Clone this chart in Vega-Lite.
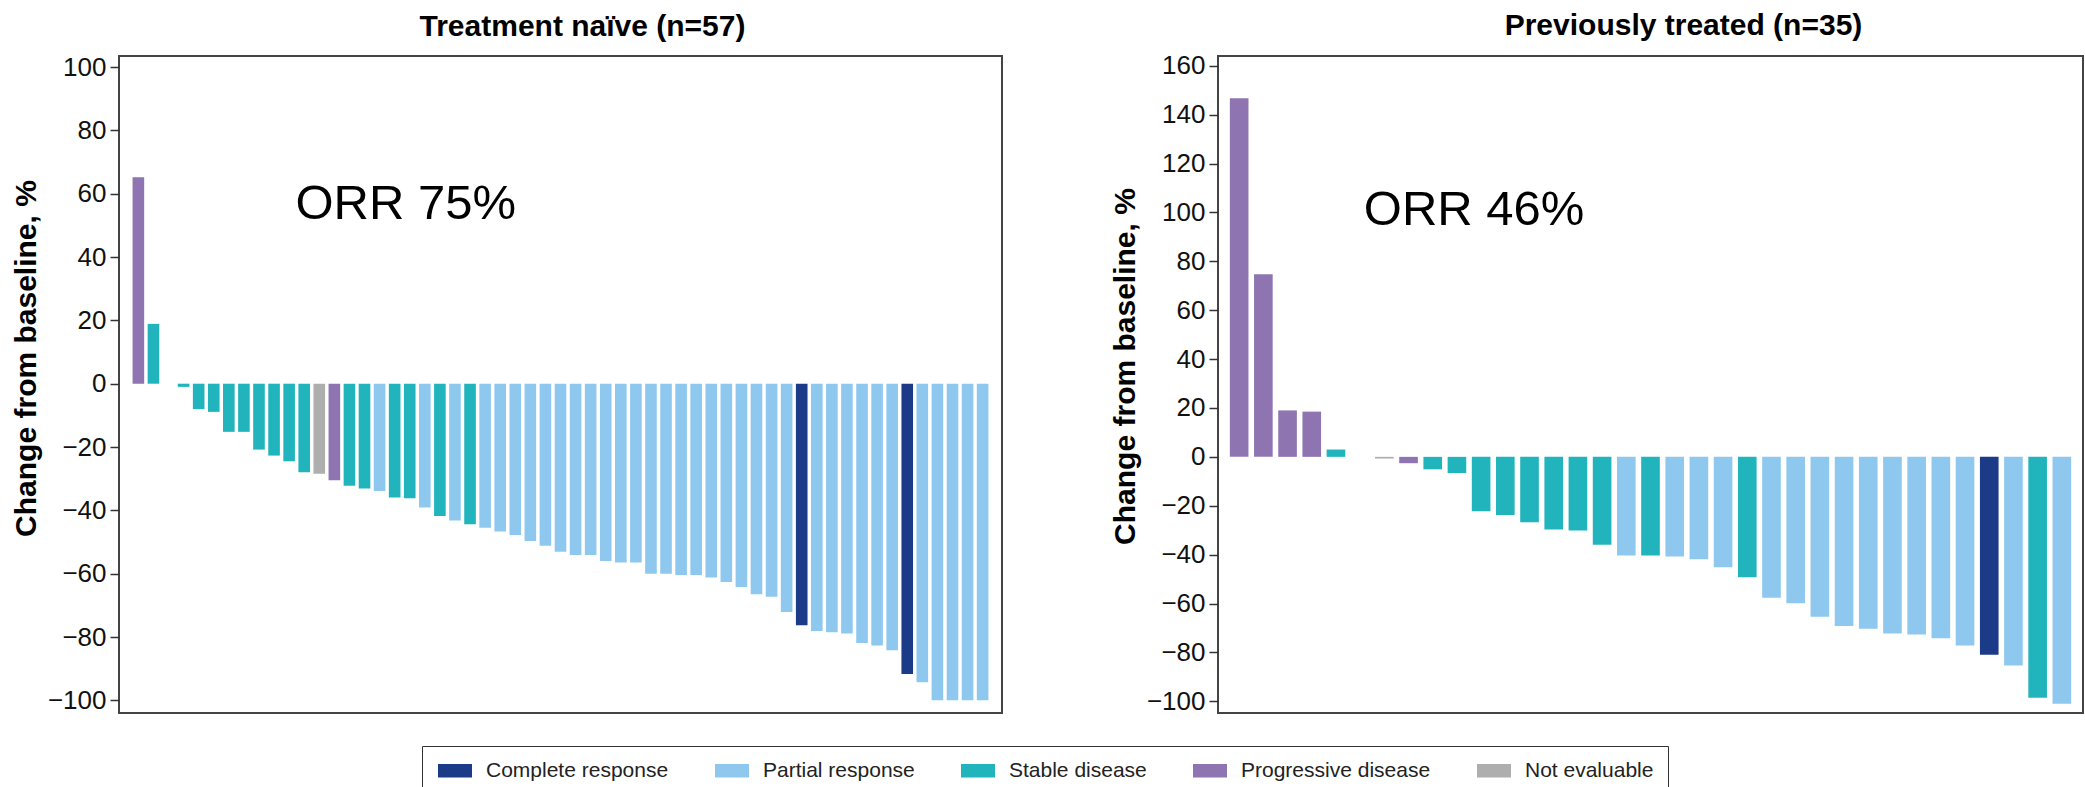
{
  "$schema": "https://vega.github.io/schema/vega-lite/v6.json",
  "background": "white",
  "padding": {"left": 10, "top": 9, "right": 0, "bottom": 0},
  "config": {
    "font": "Liberation Sans",
    "view": {"stroke": "#444", "strokeWidth": 2},
    "concat": {"spacing": 106},
    "axisY": {
      "labelFontSize": 26, "labelColor": "#111", "labelFont": "Liberation Sans",
      "tickColor": "#333", "tickSize": 9, "tickWidth": 1.5,
      "domain": false, "grid": false, "labelPadding": 4,
      "titleFontSize": 30, "titleFontWeight": "bold", "titleColor": "#000", "titleFont": "Liberation Sans", "titlePadding": 6
    },
    "title": {"fontSize": 30, "fontWeight": "bold", "font": "Liberation Sans", "color": "#000", "baseline": "alphabetic", "offset": 12}
  },
  "datasets": {
    "naive": [
      {"id": 1, "change": 65.2, "response": "Progressive disease"},
      {"id": 2, "change": 18.9, "response": "Stable disease"},
      {"id": 3, "change": 0, "response": "Stable disease"},
      {"id": 4, "change": -1, "response": "Stable disease"},
      {"id": 5, "change": -8, "response": "Stable disease"},
      {"id": 6, "change": -8.9, "response": "Stable disease"},
      {"id": 7, "change": -15.2, "response": "Stable disease"},
      {"id": 8, "change": -15.2, "response": "Stable disease"},
      {"id": 9, "change": -20.8, "response": "Stable disease"},
      {"id": 10, "change": -22.7, "response": "Stable disease"},
      {"id": 11, "change": -24.5, "response": "Stable disease"},
      {"id": 12, "change": -28, "response": "Stable disease"},
      {"id": 13, "change": -28.4, "response": "Not evaluable"},
      {"id": 14, "change": -30.5, "response": "Progressive disease"},
      {"id": 15, "change": -32.2, "response": "Stable disease"},
      {"id": 16, "change": -33.1, "response": "Stable disease"},
      {"id": 17, "change": -33.9, "response": "Partial response"},
      {"id": 18, "change": -35.9, "response": "Stable disease"},
      {"id": 19, "change": -36.2, "response": "Stable disease"},
      {"id": 20, "change": -39.1, "response": "Partial response"},
      {"id": 21, "change": -41.8, "response": "Stable disease"},
      {"id": 22, "change": -43.2, "response": "Partial response"},
      {"id": 23, "change": -44.4, "response": "Stable disease"},
      {"id": 24, "change": -45.5, "response": "Partial response"},
      {"id": 25, "change": -46.7, "response": "Partial response"},
      {"id": 26, "change": -47.8, "response": "Partial response"},
      {"id": 27, "change": -49.7, "response": "Partial response"},
      {"id": 28, "change": -51.2, "response": "Partial response"},
      {"id": 29, "change": -53.1, "response": "Partial response"},
      {"id": 30, "change": -54.1, "response": "Partial response"},
      {"id": 31, "change": -54.1, "response": "Partial response"},
      {"id": 32, "change": -56, "response": "Partial response"},
      {"id": 33, "change": -56.5, "response": "Partial response"},
      {"id": 34, "change": -56.5, "response": "Partial response"},
      {"id": 35, "change": -60, "response": "Partial response"},
      {"id": 36, "change": -60, "response": "Partial response"},
      {"id": 37, "change": -60.4, "response": "Partial response"},
      {"id": 38, "change": -60.4, "response": "Partial response"},
      {"id": 39, "change": -61.2, "response": "Partial response"},
      {"id": 40, "change": -62.6, "response": "Partial response"},
      {"id": 41, "change": -64.2, "response": "Partial response"},
      {"id": 42, "change": -66.5, "response": "Partial response"},
      {"id": 43, "change": -67.3, "response": "Partial response"},
      {"id": 44, "change": -72.1, "response": "Partial response"},
      {"id": 45, "change": -76.3, "response": "Complete response"},
      {"id": 46, "change": -78.1, "response": "Partial response"},
      {"id": 47, "change": -78.5, "response": "Partial response"},
      {"id": 48, "change": -78.9, "response": "Partial response"},
      {"id": 49, "change": -81.9, "response": "Partial response"},
      {"id": 50, "change": -82.7, "response": "Partial response"},
      {"id": 51, "change": -84.2, "response": "Partial response"},
      {"id": 52, "change": -91.7, "response": "Complete response"},
      {"id": 53, "change": -94.3, "response": "Partial response"},
      {"id": 54, "change": -100, "response": "Partial response"},
      {"id": 55, "change": -100, "response": "Partial response"},
      {"id": 56, "change": -100, "response": "Partial response"},
      {"id": 57, "change": -100, "response": "Partial response"}
    ],
    "prev": [
      {"id": 1, "change": 146.7, "response": "Progressive disease"},
      {"id": 2, "change": 74.7, "response": "Progressive disease"},
      {"id": 3, "change": 19, "response": "Progressive disease"},
      {"id": 4, "change": 18.5, "response": "Progressive disease"},
      {"id": 5, "change": 3, "response": "Stable disease"},
      {"id": 6, "change": 0, "response": "Stable disease"},
      {"id": 7, "change": -0.7, "response": "Not evaluable"},
      {"id": 8, "change": -2.6, "response": "Progressive disease"},
      {"id": 9, "change": -5.1, "response": "Stable disease"},
      {"id": 10, "change": -6.6, "response": "Stable disease"},
      {"id": 11, "change": -22.3, "response": "Stable disease"},
      {"id": 12, "change": -23.8, "response": "Stable disease"},
      {"id": 13, "change": -26.8, "response": "Stable disease"},
      {"id": 14, "change": -29.7, "response": "Stable disease"},
      {"id": 15, "change": -30.1, "response": "Stable disease"},
      {"id": 16, "change": -36, "response": "Stable disease"},
      {"id": 17, "change": -40.4, "response": "Partial response"},
      {"id": 18, "change": -40.4, "response": "Stable disease"},
      {"id": 19, "change": -40.8, "response": "Partial response"},
      {"id": 20, "change": -41.9, "response": "Partial response"},
      {"id": 21, "change": -45.2, "response": "Partial response"},
      {"id": 22, "change": -49.3, "response": "Stable disease"},
      {"id": 23, "change": -57.6, "response": "Partial response"},
      {"id": 24, "change": -59.9, "response": "Partial response"},
      {"id": 25, "change": -65.4, "response": "Partial response"},
      {"id": 26, "change": -69.2, "response": "Partial response"},
      {"id": 27, "change": -70.3, "response": "Partial response"},
      {"id": 28, "change": -72.3, "response": "Partial response"},
      {"id": 29, "change": -72.7, "response": "Partial response"},
      {"id": 30, "change": -74.2, "response": "Partial response"},
      {"id": 31, "change": -77.2, "response": "Partial response"},
      {"id": 32, "change": -81, "response": "Complete response"},
      {"id": 33, "change": -85.4, "response": "Partial response"},
      {"id": 34, "change": -98.6, "response": "Stable disease"},
      {"id": 35, "change": -101, "response": "Partial response"}
    ],
    "notes": [
      {"panel": "naive", "id": 19, "change": 52, "label": "ORR 75%"},
      {"panel": "prev", "id": 11, "change": 94.7, "label": "ORR 46%"}
    ]
  },
  "hconcat": [
    {
      "width": 883,
      "height": 657,
      "title": {"text": "Treatment naïve (n=57)", "dx": 22},
      "layer": [
        {
          "data": {"name": "naive"},
          "mark": {"type": "bar", "strokeWidth": 0},
          "encoding": {
            "x": {"field": "id", "type": "ordinal", "axis": null,
                  "scale": {"type": "band", "paddingInner": 0.23, "paddingOuter": 0.9}},
            "y": {"field": "change", "type": "quantitative",
                  "scale": {"domain": [-104, 103.5], "nice": false, "zero": false},
                  "axis": {"values": [-100, -80, -60, -40, -20, 0, 20, 40, 60, 80, 100],
                           "title": "Change from baseline, %", "titleY": 302}},
            "color": {"field": "response", "type": "nominal",
                      "scale": {"domain": ["Complete response", "Partial response", "Stable disease", "Progressive disease", "Not evaluable"],
                                "range": ["#1B3A87", "#8FC8EE", "#22B4BC", "#8E75B2", "#AEAEAE"]},
                      "legend": {"title": null, "orient": "none", "direction": "horizontal",
                                 "legendX": 303, "legendY": 690,
                                 "symbolType": "M-1,-0.8H3V0.8H-1Z", "symbolSize": 289, "symbolStrokeWidth": 0,
                                 "labelFontSize": 21, "labelFont": "Liberation Sans", "labelColor": "#222", "labelLimit": 400,
                                 "labelOffset": 29, "columnPadding": 44,
                                 "strokeColor": "#333", "padding": 14}}
          }
        },
        {
          "mark": {"type": "rule", "color": "#555", "strokeWidth": 2},
          "encoding": {"y": {"datum": 0}}
        },
        {
          "data": {"name": "notes"},
          "transform": [{"filter": "datum.panel === 'naive'"}],
          "mark": {"type": "text", "fontSize": 49, "font": "Liberation Sans", "baseline": "alphabetic", "align": "center", "dx": -4, "color": "#000"},
          "encoding": {
            "x": {"field": "id", "type": "ordinal"},
            "y": {"field": "change", "type": "quantitative"},
            "text": {"field": "label"}
          }
        }
      ]
    },
    {
      "width": 865,
      "height": 657,
      "title": {"text": "Previously treated (n=35)", "dx": 33},
      "layer": [
        {
          "data": {"name": "prev"},
          "mark": {"type": "bar", "strokeWidth": 0},
          "encoding": {
            "x": {"field": "id", "type": "ordinal", "axis": null,
                  "scale": {"type": "band", "paddingInner": 0.23, "paddingOuter": 0.49}},
            "y": {"field": "change", "type": "quantitative",
                  "scale": {"domain": [-104.8, 164], "nice": false, "zero": false},
                  "axis": {"values": [-100, -80, -60, -40, -20, 0, 20, 40, 60, 80, 100, 120, 140, 160],
                           "title": "Change from baseline, %", "titleY": 310}},
            "color": {"field": "response", "type": "nominal",
                      "scale": {"domain": ["Complete response", "Partial response", "Stable disease", "Progressive disease", "Not evaluable"],
                                "range": ["#1B3A87", "#8FC8EE", "#22B4BC", "#8E75B2", "#AEAEAE"]},
                      "legend": {"title": null, "orient": "none", "direction": "horizontal",
                                 "legendX": 303, "legendY": 690,
                                 "symbolType": "M-1,-0.8H3V0.8H-1Z", "symbolSize": 289, "symbolStrokeWidth": 0,
                                 "labelFontSize": 21, "labelFont": "Liberation Sans", "labelColor": "#222", "labelLimit": 400,
                                 "labelOffset": 29, "columnPadding": 44,
                                 "strokeColor": "#333", "padding": 14}}
          }
        },
        {
          "mark": {"type": "rule", "color": "#555", "strokeWidth": 2},
          "encoding": {"y": {"datum": 0}}
        },
        {
          "data": {"name": "notes"},
          "transform": [{"filter": "datum.panel === 'prev'"}],
          "mark": {"type": "text", "fontSize": 49, "font": "Liberation Sans", "baseline": "alphabetic", "align": "center", "dx": -7, "color": "#000"},
          "encoding": {
            "x": {"field": "id", "type": "ordinal"},
            "y": {"field": "change", "type": "quantitative"},
            "text": {"field": "label"}
          }
        }
      ]
    }
  ],
  "resolve": {"scale": {"x": "independent", "y": "independent", "color": "shared"}, "legend": {"color": "shared"}}
}
